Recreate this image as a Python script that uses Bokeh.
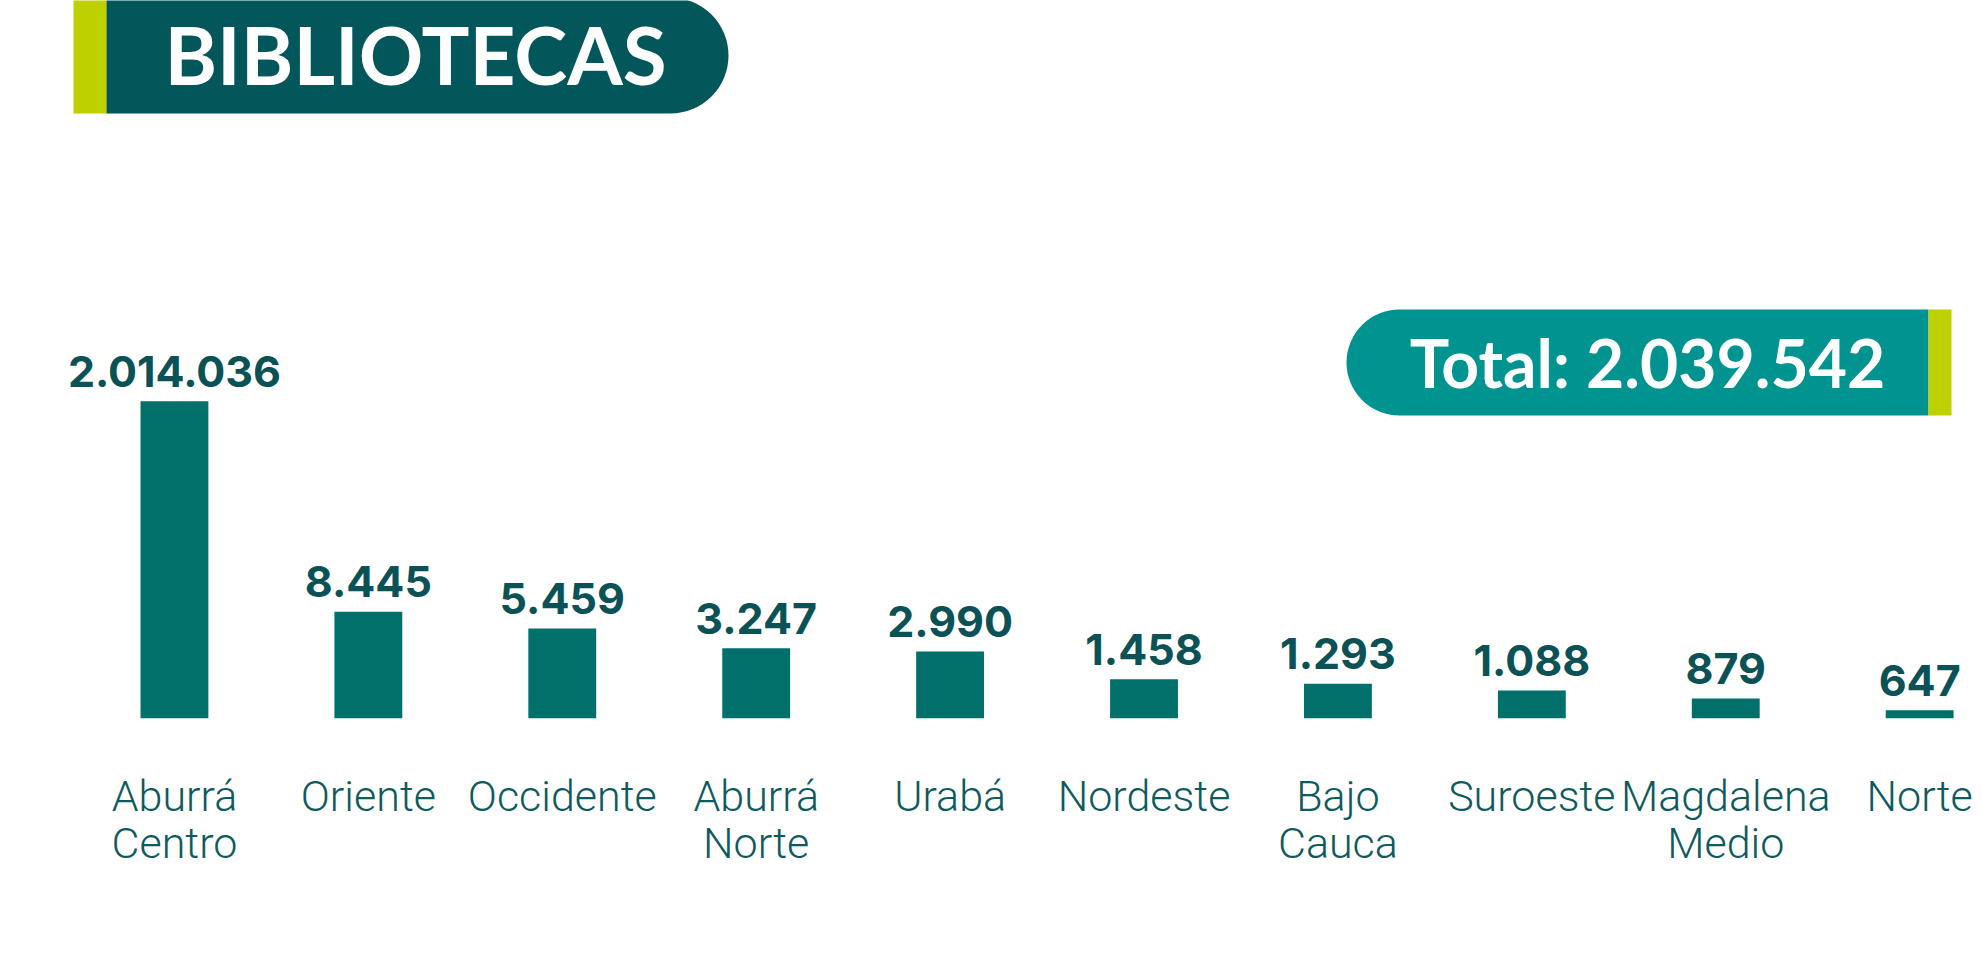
from bokeh.plotting import figure
from bokeh.models import Range1d, FixedTicker, BoxAnnotation, Label, ColumnDataSource
from bokeh.core.properties import value
from bokeh.embed import file_html
from bokeh.resources import INLINE

# ---- data ----
regions = ["Aburrá Centro", "Oriente", "Occidente", "Aburrá Norte", "Urabá",
           "Nordeste", "Bajo Cauca", "Suroeste", "Magdalena Medio", "Norte"]
tick_labels = ["Aburrá\nCentro", "Oriente", "Occidente", "Aburrá\nNorte", "Urabá",
               "Nordeste", "Bajo\nCauca", "Suroeste", "Magdalena\nMedio", "Norte"]
bibliotecas = [2014036, 8445, 5459, 3247, 2990, 1458, 1293, 1088, 879, 647]
title_text = "BIBLIOTECAS"

def fmt(v):
    return f"{v:,}".replace(",", ".")

total = sum(bibliotecas)

# ---- styles / layout ----
W, H = 1982, 978
BASE = 718            # frame bottom (bar baseline) in canvas px
Y_FLOOR = 10 ** 2.719
Y_TOP = 10 ** (2.719 + BASE / 88.5)
BAR = "#01706B"
DARK = "#03565A"
LIME = "#BDD000"
TEAL = "#009390"
VAL = "#0B5257"
CAT = "#0E5A5E"

xs = list(range(len(regions)))
src = ColumnDataSource(dict(x=xs, v=bibliotecas, lbl=[fmt(v) for v in bibliotecas],
                            region=regions))

p = figure(width=W, height=H, output_backend="svg", toolbar_location=None,
           x_range=Range1d(-0.897, 9.324),
           y_range=Range1d(Y_FLOOR, Y_TOP), y_axis_type="log",
           y_axis_location=None, min_border_left=0, min_border_right=0,
           min_border_top=0, min_border_bottom=H - BASE)
p.outline_line_color = None
p.xgrid.visible = False
p.ygrid.visible = False
p.background_fill_color = "white"
p.border_fill_color = "white"

p.vbar(x="x", top="v", bottom=Y_FLOOR, width=0.35, source=src,
       fill_color=BAR, line_color=None)
p.text(x="x", y="v", text="lbl", source=src, text_align="center",
       text_baseline="alphabetic", y_offset=-30,
       text_font=value("Inter"), text_font_style="bold",
       text_font_size="43px", text_color=VAL)

ax = p.xaxis[0]
ax.ticker = FixedTicker(ticks=xs)
ax.major_label_overrides = {i: t for i, t in zip(xs, tick_labels)}
ax.axis_line_color = None
ax.major_tick_line_color = None
ax.minor_tick_line_color = None
ax.major_label_standoff = 46
ax.major_label_text_font = "Roboto Light, Roboto"
ax.major_label_text_font_size = "43px"
ax.major_label_text_line_height = 0.95
ax.major_label_text_color = CAT

# ---- banners (screen units, measured upward from frame bottom) ----
def cy(canvas_y):
    return BASE - canvas_y

p.add_layout(BoxAnnotation(left=73, right=106, top=cy(-3), bottom=cy(113),
                           left_units="screen", right_units="screen",
                           top_units="screen", bottom_units="screen",
                           fill_color=LIME, fill_alpha=1, line_color=None))
p.add_layout(BoxAnnotation(left=106, right=728, top=cy(-3), bottom=cy(113),
                           left_units="screen", right_units="screen",
                           top_units="screen", bottom_units="screen",
                           fill_color=DARK, fill_alpha=1, line_color=None,
                           border_radius=(0, 58, 58, 0)))
p.add_layout(Label(x=415, y=cy(53), x_units="screen", y_units="screen",
                   text=title_text, text_align="center", text_baseline="alphabetic",
                   text_font="Lato", text_font_style="bold", text_font_size="80px",
                   text_color="white"))

p.add_layout(BoxAnnotation(left=1346, right=1928, top=cy(309), bottom=cy(415),
                           left_units="screen", right_units="screen",
                           top_units="screen", bottom_units="screen",
                           fill_color=TEAL, fill_alpha=1, line_color=None,
                           border_radius=(53, 0, 0, 53)))
p.add_layout(BoxAnnotation(left=1928, right=1951, top=cy(309), bottom=cy(415),
                           left_units="screen", right_units="screen",
                           top_units="screen", bottom_units="screen",
                           fill_color=LIME, fill_alpha=1, line_color=None))
p.add_layout(Label(x=1647, y=cy(362), x_units="screen", y_units="screen",
                   text=f"Total: {fmt(total)}", text_align="center",
                   text_baseline="alphabetic",
                   text_font="Lato", text_font_style="bold", text_font_size="66px",
                   text_color="white"))

open("out.html", "w").write(file_html(p, INLINE))
